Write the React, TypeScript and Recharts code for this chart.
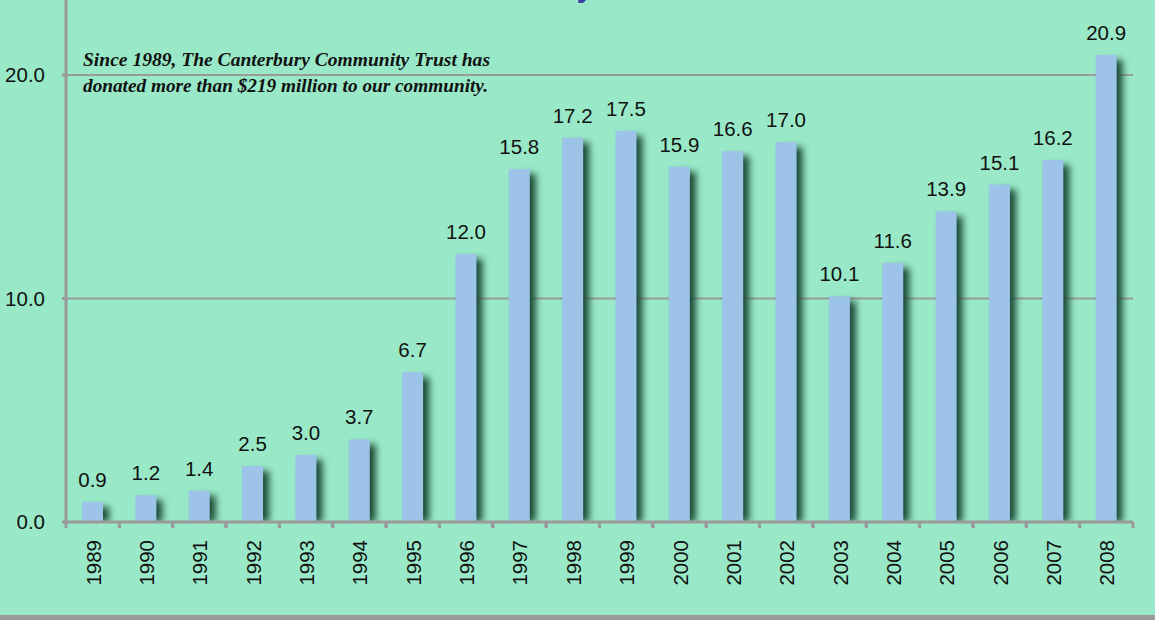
import { BarChart, Bar, XAxis, YAxis, CartesianGrid, LabelList } from "recharts"

const years = ["1989", "1990", "1991", "1992", "1993", "1994", "1995", "1996", "1997", "1998", "1999", "2000", "2001", "2002", "2003", "2004", "2005", "2006", "2007", "2008"]
const donations = [0.9, 1.2, 1.4, 2.5, 3.0, 3.7, 6.7, 12.0, 15.8, 17.2, 17.5, 15.9, 16.6, 17.0, 10.1, 11.6, 13.9, 15.1, 16.2, 20.9]
const yTicks = [0, 10, 20]
const noteLines = ["Since 1989, The Canterbury Community Trust has", "donated more than $219 million to our community."]

const data = years.map((year, i) => ({ year, value: donations[i] }))

const BG = "#99e9c8"
const GRID = "#9a9a9a"
const BAR = "#9ec3e8"
const FONT = "'Liberation Sans', Arial, sans-serif"

const W = 1155
const H = 615
const LEFT = 66
const RIGHT = 22
const step = (W - LEFT - RIGHT) / years.length

function ShadowBar(props: any) {
  const { x, y, width, height } = props
  if (!height || height <= 0) return null
  return (
    <g>
      <rect x={x + 6} y={y + 5} width={width} height={height - 5} fill="#1c4a36" style={{ filter: "blur(3.5px)" }} />
      <rect x={x} y={y} width={width} height={height} fill={BAR} />
    </g>
  )
}

function YearTick(props: any) {
  const { x, y, payload } = props
  return (
    <g>
      <line x1={x - step / 2} y1={y} x2={x - step / 2} y2={y + 6} stroke={GRID} strokeWidth={3} />
      <line x1={x + step / 2} y1={y} x2={x + step / 2} y2={y + 6} stroke={GRID} strokeWidth={3} />
      <text
        transform={`translate(${x + 8}, ${y + 18}) rotate(-90)`}
        textAnchor="end"
        fontSize={20.5}
        fontFamily={FONT}
        fill="#111"
      >
        {payload.value}
      </text>
    </g>
  )
}

export default function App() {
  return (
    <div style={{ position: "absolute", left: 0, top: 0, width: W, height: 620, background: BG, overflow: "hidden" }}>
      <BarChart width={W} height={H} data={data} margin={{ top: 0, right: RIGHT, left: 0, bottom: 0 }}>
        <CartesianGrid vertical={false} stroke={GRID} strokeWidth={2} horizontalValues={[10, 20]} />
        <XAxis
          dataKey="year"
          height={H - 522}
          axisLine={{ stroke: GRID, strokeWidth: 3 }}
          tickLine={false}
          tickSize={0}
          tickMargin={0}
          interval={0}
          tick={<YearTick />}
        />
        <YAxis
          domain={[0, 23.36]}
          ticks={yTicks}
          width={LEFT}
          axisLine={{ stroke: GRID, strokeWidth: 3 }}
          tickLine={{ stroke: GRID, strokeWidth: 3 }}
          tickSize={4}
          tickMargin={17}
          tickFormatter={(v: number) => v.toFixed(1)}
          tick={{ fontSize: 20.5, fontFamily: FONT, fill: "#111" }}
          allowDataOverflow
        />
        <Bar dataKey="value" barSize={21} shape={<ShadowBar />} isAnimationActive={false}>
          <LabelList
            dataKey="value"
            position="top"
            offset={15}
            formatter={(v: any) => Number(v).toFixed(1)}
            style={{ fontSize: 20.5, fontFamily: FONT, fill: "#111" }}
          />
        </Bar>
      </BarChart>
      <svg style={{ position: "absolute", left: 0, top: 0 }} width={W} height={H} pointerEvents="none">
        <text x={585} y={-3} textAnchor="middle" fontSize={30} fontWeight="bold" fontFamily={FONT} fill="#3c3ca3">y</text>
        {noteLines.map((line, i) => (
          <text
            key={i}
            x={83}
            y={66 + i * 26}
            fontSize={19}
            fontStyle="italic"
            fontWeight="bold"
            fontFamily="'Liberation Serif', 'Times New Roman', serif"
            fill="#111"
            textLength={i === 0 ? 407 : 405}
            lengthAdjust="spacingAndGlyphs"
          >
            {line}
          </text>
        ))}
      </svg>
      <div style={{ position: "absolute", left: 0, top: H, width: W, height: 620 - H, background: GRID }} />
    </div>
  )
}
